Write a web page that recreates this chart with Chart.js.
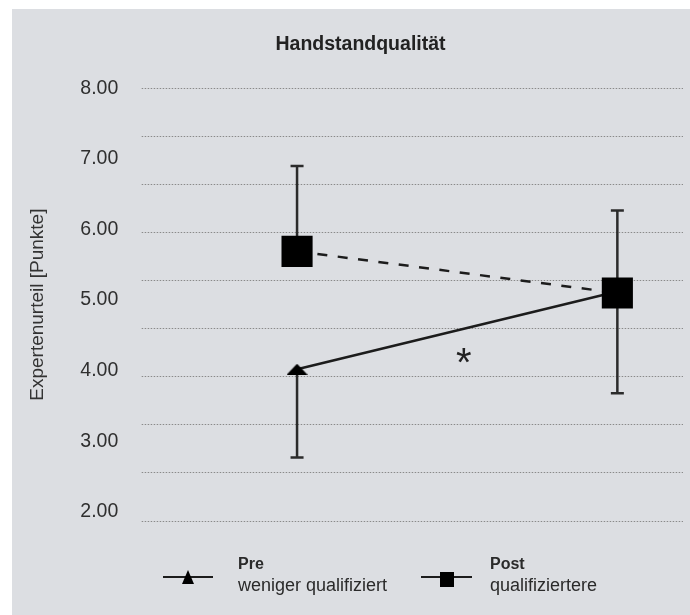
<!DOCTYPE html>
<html>
<head>
<meta charset="utf-8">
<script src="https://cdn.jsdelivr.net/npm/chart.js@4.4.0/dist/chart.umd.min.js"></script>
<style>
    html, body { margin: 0; padding: 0; background: #fff; }
    #wrap { position: relative; width: 690px; height: 615px; overflow: hidden; }
    #bg { position: absolute; left: 12px; top: 9px; right: 0; bottom: 0; background: #dcdee2; }
    #chart { position: absolute; left: 0; top: 0; }
    .leg { position: absolute; font-family: "Liberation Sans", Arial, sans-serif; color: #2a2a2a; white-space: nowrap; }
    .leg.fett { font-size: 16px; line-height: 16px; font-weight: bold; }
    .leg.normal { font-size: 18px; line-height: 18px; }
    .linie { position: absolute; height: 2px; background: #1c1c1c; }
    .dreieck { position: absolute; width: 0; height: 0; border-left: 6.5px solid transparent; border-right: 6.5px solid transparent; border-bottom: 14px solid #000; }
    .quadrat { position: absolute; width: 14px; height: 15px; background: #000; }
</style>
</head>
<body>
<div id="wrap">
    <div id="bg"></div>
    <canvas id="chart" width="690" height="615"></canvas>

    <!-- Legende -->
    <div class="linie" style="left:163px; top:576px; width:50px;"></div>
    <div class="dreieck" style="left:182px; top:570px;"></div>
    <div class="leg fett" style="left:238px; top:556px;">Pre</div>
    <div class="leg normal" style="left:238px; top:576px;">weniger qualifiziert</div>

    <div class="linie" style="left:421px; top:576px; width:51px;"></div>
    <div class="quadrat" style="left:440px; top:572px;"></div>
    <div class="leg fett" style="left:490px; top:556px;">Post</div>
    <div class="leg normal" style="left:490px; top:576px;">qualifiziertere</div>
</div>

<script>
// Messzeitpunkte (x-Position 1 und 2)
var zeitpunkte = ['Pre', 'Post'];
var xPos = [1, 2];

// Mittelwerte Expertenurteil
var wenigerQualifiziert = [4.02, 5.12];
var qualifiziertere = [5.69, 5.10];

// Fehlerbalken (nur einseitig gezeichnet)
var wenigerUnten = [2.77, 3.68];
var qualiOben = [6.90, 6.27];

// Achsenbeschriftung
var yTicks = [2, 3, 4, 5, 6, 7, 8];

// Signifikanz-Stern
var sternX = 1.52;
var sternY = 4.22;

var schrift = '"Liberation Sans", Arial, sans-serif';

// flaches Dreieck als Marker
var dreieck = document.createElement('canvas');
dreieck.width = 21;
dreieck.height = 11;
var dc = dreieck.getContext('2d');
dc.fillStyle = '#000';
dc.beginPath();
dc.moveTo(10.5, 0);
dc.lineTo(21, 11);
dc.lineTo(0, 11);
dc.closePath();
dc.fill();

const fehlerbalken = {
    id: 'fehlerbalken',
    beforeDatasetsDraw(chart) {
        const ctx = chart.ctx;
        const x = chart.scales.x;
        const y = chart.scales.y;
        ctx.save();
        ctx.strokeStyle = '#2b2b2b';
        ctx.lineWidth = 2.5;
        function balken(wert, grenze, i) {
            const px = x.getPixelForValue(xPos[i]);
            const p0 = y.getPixelForValue(wert);
            const p1 = y.getPixelForValue(grenze);
            ctx.beginPath();
            ctx.moveTo(px, p0);
            ctx.lineTo(px, p1);
            ctx.moveTo(px - 6.5, p1);
            ctx.lineTo(px + 6.5, p1);
            ctx.stroke();
        }
        for (let i = 0; i < xPos.length; i++) {
            balken(wenigerQualifiziert[i], wenigerUnten[i], i);
            balken(qualifiziertere[i], qualiOben[i], i);
        }
        ctx.restore();
    },
    afterDatasetsDraw(chart) {
        // Stern fuer signifikanten Unterschied
        const ctx = chart.ctx;
        const px = chart.scales.x.getPixelForValue(sternX);
        const py = chart.scales.y.getPixelForValue(sternY);
        ctx.save();
        ctx.fillStyle = '#222';
        ctx.font = '40px ' + schrift;
        ctx.textAlign = 'left';
        ctx.textBaseline = 'alphabetic';
        const m = ctx.measureText('*');
        const tx = px - (m.actualBoundingBoxRight - m.actualBoundingBoxLeft) / 2;
        const ty = py - (m.actualBoundingBoxDescent - m.actualBoundingBoxAscent) / 2;
        ctx.fillText('*', tx, ty);
        ctx.restore();
    }
};

Chart.defaults.font.family = schrift;

new Chart(document.getElementById('chart'), {
    type: 'line',
    data: {
        datasets: [{
            label: 'weniger qualifiziert',
            data: xPos.map((v, i) => ({ x: v, y: wenigerQualifiziert[i] })),
            borderColor: '#1c1c1c',
            borderWidth: 2.5,
            pointStyle: dreieck,
            pointRadius: 10,
            pointHoverRadius: 10,
            pointBorderWidth: 0,
            order: 1
        },
        {
            label: 'qualifiziertere',
            data: xPos.map((v, i) => ({ x: v, y: qualifiziertere[i] })),
            borderColor: '#1c1c1c',
            borderWidth: 2.5,
            borderDash: [10, 10.5],
            pointStyle: 'rect',
            pointRadius: 22,
            pointHoverRadius: 22,
            pointBackgroundColor: '#000',
            pointBorderWidth: 0,
            order: 0
        }
        ]
    },
    options: {
        responsive: false,
        animation: false,
        events: [],
        layout: {
            autoPadding: false,
            padding: { left: 31, right: 0, top: 0, bottom: 94 }
        },
        scales: {
            x: {
                type: 'linear',
                display: false,
                min: 0.515,
                max: 2.204
            },
            y: {
                position: 'left',
                min: 1.869,
                max: 8,
                afterBuildTicks: axis => { axis.ticks = yTicks.map(v => ({ value: v })); },
                afterFit: axis => { axis.width = 110.7; },
                grid: { display: false, drawTicks: false },
                border: { display: false },
                ticks: {
                    padding: 23.4,
                    color: '#2f2f2f',
                    font: { size: 19.5 },
                    callback: v => Number(v).toFixed(2)
                },
                title: {
                    display: true,
                    text: 'Expertenurteil [Punkte]',
                    color: '#333',
                    font: { size: 19, lineHeight: 0.75 },
                    padding: 0
                }
            },
            yg: {
                position: 'right',
                min: 0,
                max: 9,
                afterFit: axis => { axis.width = 7.3; },
                ticks: { display: false, stepSize: 1 },
                grid: { drawTicks: false, color: '#8a8a8a', lineWidth: 1 },
                border: { display: false, dash: [1.5, 1.5] }
            }
        },
        plugins: {
            legend: { display: false },
            tooltip: { enabled: false },
            title: {
                display: true,
                text: 'Handstandqualität',
                color: '#222',
                font: { size: 19.5, weight: 'bold' },
                padding: { top: 33.3, bottom: 31.6 }
            }
        }
    },
    plugins: [fehlerbalken]
});
</script>
</body>
</html>
